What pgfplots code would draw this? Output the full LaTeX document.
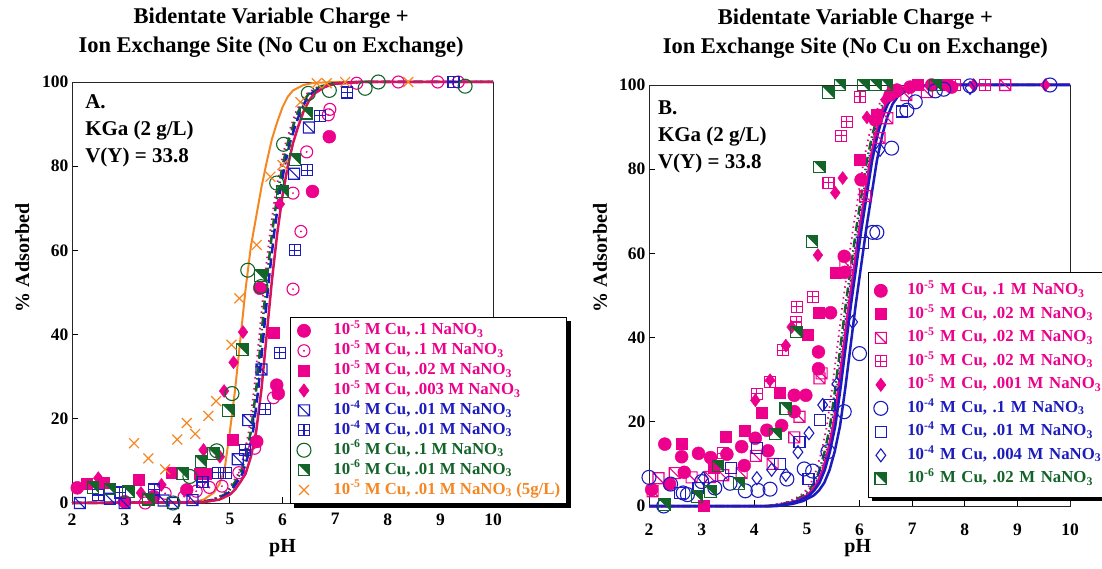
\documentclass[border=0pt]{standalone}
\usepackage{fontspec}
\setmainfont{Liberation Serif}
\usepackage{pgfplots}
\pgfplotsset{compat=1.18}
\usetikzlibrary{shadows}

\definecolor{pk}{RGB}{236,0,140}
\definecolor{bl}{RGB}{28,28,190}
\definecolor{gn}{RGB}{18,100,40}
\definecolor{og}{RGB}{245,135,35}
\definecolor{cr}{RGB}{215,20,90}

\pgfdeclareplotmark{odot}{%
  \pgfpathcircle{\pgfpointorigin}{\pgfplotmarksize}\pgfusepathqstroke
  \pgfpathcircle{\pgfpointorigin}{0.18\pgfplotmarksize}\pgfusepathqfill}
\pgfdeclareplotmark{sqdiag}{%
  \pgfpathrectangle{\pgfqpoint{-\pgfplotmarksize}{-\pgfplotmarksize}}{\pgfqpoint{2\pgfplotmarksize}{2\pgfplotmarksize}}%
  \pgfpathmoveto{\pgfqpoint{-\pgfplotmarksize}{\pgfplotmarksize}}%
  \pgfpathlineto{\pgfqpoint{\pgfplotmarksize}{-\pgfplotmarksize}}%
  \pgfusepathqstroke}
\pgfdeclareplotmark{sqgrid}{%
  \pgfpathrectangle{\pgfqpoint{-\pgfplotmarksize}{-\pgfplotmarksize}}{\pgfqpoint{2\pgfplotmarksize}{2\pgfplotmarksize}}%
  \pgfpathmoveto{\pgfqpoint{0pt}{-\pgfplotmarksize}}\pgfpathlineto{\pgfqpoint{0pt}{\pgfplotmarksize}}%
  \pgfpathmoveto{\pgfqpoint{-\pgfplotmarksize}{0pt}}\pgfpathlineto{\pgfqpoint{\pgfplotmarksize}{0pt}}%
  \pgfusepathqstroke}
\pgfdeclareplotmark{sqhalf}{%
  \pgfpathmoveto{\pgfqpoint{-\pgfplotmarksize}{\pgfplotmarksize}}%
  \pgfpathlineto{\pgfqpoint{\pgfplotmarksize}{\pgfplotmarksize}}%
  \pgfpathlineto{\pgfqpoint{\pgfplotmarksize}{-\pgfplotmarksize}}%
  \pgfpathclose\pgfusepathqfill
  \pgfpathrectangle{\pgfqpoint{-\pgfplotmarksize}{-\pgfplotmarksize}}{\pgfqpoint{2\pgfplotmarksize}{2\pgfplotmarksize}}%
  \pgfusepathqstroke}

\pgfplotsset{
  panel/.style={
    scale only axis, width=421pt, height=421pt,
    xmin=2, xmax=10, ymin=0, ymax=100,
    xtick={2,3,...,10}, ytick={0,20,...,100},
    tick pos=left, tick align=inside, major tick length=6pt,
    tick style={black, line width=0.8pt},
    axis line style={line width=0.8pt, black!85},
    ticklabel style={font=\fontsize{17.5}{18}\selectfont\bfseries},
    /pgf/number format/assume math mode=true,
    clip=false,
    label style={font=\fontsize{20}{22}\selectfont\bfseries},
    xlabel={pH}, ylabel={\% Adsorbed},
    title style={align=center, font=\fontsize{22.5}{29}\selectfont\bfseries, anchor=south, inner sep=0pt},
    title={Bidentate Variable Charge +\\Ion Exchange Site (No Cu on Exchange)},
    legend cell align=left,
  },
  sA/.style={only marks, mark=*, mark size=6.5pt, color=pk},
  sB/.style={only marks, mark=odot, mark size=6pt, color=pk, mark options={fill=pk, line width=1.1pt}},
  sC/.style={only marks, mark=square*, mark size=5.5pt, color=pk},
  sD/.style={only marks, mark=diamond*, mark size=6.5pt, color=pk},
  sE/.style={only marks, mark=sqdiag, mark size=5.5pt, color=bl, mark options={line width=1.1pt}},
  sF/.style={only marks, mark=sqgrid, mark size=5.5pt, color=bl, mark options={line width=1.1pt}},
  sG/.style={only marks, mark=o, mark size=7pt, color=gn, mark options={line width=1.1pt}},
  sH/.style={only marks, mark=sqhalf, mark size=5.8pt, color=gn, mark options={fill=gn, line width=1.1pt}},
  sI/.style={only marks, mark=x, mark size=7pt, color=og, mark options={line width=1.2pt}},
  pE/.style={only marks, mark=sqdiag, mark size=5.5pt, color=pk, mark options={line width=1.1pt}},
  pF/.style={only marks, mark=sqgrid, mark size=5.5pt, color=pk, mark options={line width=1.1pt}},
  bO/.style={only marks, mark=o, mark size=7pt, color=bl, mark options={line width=1.1pt}},
  bS/.style={only marks, mark=square, mark size=5.5pt, color=bl, mark options={line width=1.1pt}},
  bD/.style={only marks, mark=diamond, mark size=6.5pt, color=bl, mark options={line width=1.1pt}},
}

\newcommand{\lgent}[3]{\textcolor{#1}{10\textsuperscript{-#2} M Cu, #3}}

\begin{document}
\begin{tikzpicture}
% ---------------- Panel A ----------------
\begin{axis}[panel, at={(72pt,65pt)}, anchor=south west,
  title style={at={(axis description cs:0.473,1)}, yshift=18pt},
  xlabel style={at={(axis description cs:0.5,-0.107)}, anchor=center},
  ylabel style={at={(axis description cs:-0.118,0.582)}, anchor=center},
  xticklabel style={yshift=-7pt},
  legend style={at={(axis description cs:0.518,0.442)}, anchor=north west,
    draw=black, line width=0.8pt, fill=white,
    drop shadow={shadow xshift=4pt, shadow yshift=-4pt, fill=black, opacity=1},
    font=\fontsize{16.8}{18}\selectfont\bfseries,
    inner xsep=6.5pt, inner ysep=5pt, row sep=2.9pt,
    nodes={text height=12.5pt, text depth=4.5pt, inner sep=0pt},
    /tikz/every odd column/.append style={column sep=22.5pt}},
]
% model curves
\addplot[forget plot, og, line width=2pt] coordinates {(2,0)(4.3,0.2)(4.5,0.8)(4.7,2.5)(4.8,4.5)(4.9,8)(5.0,17)(5.1,27)(5.2,39)(5.3,51)(5.4,61)(5.5,68)(5.6,75)(5.7,81)(5.8,86.5)(5.9,90.5)(6.0,94)(6.1,96.5)(6.2,98)(6.4,99.3)(6.6,99.8)(7,100)(10,100)};
\addplot[forget plot, pk, line width=1.8pt, dash pattern=on 1.5pt off 4pt] coordinates {(2,0)(4.36,0.2)(4.66,0.8)(4.86,2)(4.96,3.2)(5.06,5)(5.16,7)(5.26,11)(5.36,17)(5.46,27)(5.56,40)(5.66,53)(5.76,64)(5.86,73)(5.96,80)(6.06,85.5)(6.16,89.5)(6.26,93)(6.36,95.5)(6.46,97.2)(6.66,98.8)(6.86,99.6)(7.36,100)(10,100)};
\addplot[forget plot, gn, line width=2.5pt, dash pattern=on 9pt off 3pt on 1.5pt off 3pt] coordinates {(2,0)(4.4,0.2)(4.7,0.8)(4.9,2)(5.0,3.2)(5.1,5)(5.2,7)(5.3,11)(5.4,17)(5.5,27)(5.6,40)(5.7,53)(5.8,64)(5.9,73)(6.0,80)(6.1,85.5)(6.2,89.5)(6.3,93)(6.4,95.5)(6.5,97.2)(6.7,98.8)(6.9,99.6)(7.4,100)(10,100)};
\addplot[forget plot, bl, line width=2.5pt, dash pattern=on 10pt off 5pt] coordinates {(2,0)(4.44,0.2)(4.74,0.8)(4.94,2)(5.04,3.2)(5.14,5)(5.24,7)(5.34,11)(5.44,17)(5.54,27)(5.64,40)(5.74,53)(5.84,64)(5.94,73)(6.04,80)(6.14,85.5)(6.24,89.5)(6.34,93)(6.44,95.5)(6.54,97.2)(6.74,98.8)(6.94,99.6)(7.44,100)(10,100)};
\addplot[forget plot, cr, line width=2.5pt] coordinates {(2,0)(4.5,0.2)(4.8,0.8)(5.0,2)(5.1,3.2)(5.2,5)(5.3,7)(5.4,11)(5.5,17)(5.6,27)(5.7,40)(5.8,53)(5.9,64)(6.0,73)(6.1,80)(6.2,85.5)(6.3,89.5)(6.4,93)(6.5,95.5)(6.6,97.2)(6.8,98.8)(7.0,99.6)(7.5,100)(10,100)};
% data
\addplot[sA] coordinates {(2.1,3.6)(3.0,0.3)(3.55,1.5)(4.18,3.1)(5.51,14.6)(5.57,51)(5.89,28)(5.92,26)(6.57,74)(6.89,87)};
\addlegendentry{\lgent{pk}{5}{.1 NaNO\textsubscript{3}}}
\addplot[sB] coordinates {(3.39,0)(3.77,2.3)(4.13,1.5)(4.36,2.8)(4.61,3.7)(4.85,4)(5.17,7.2)(5.47,13)(5.83,25)(6.2,50.8)(6.35,64.5)(6.2,73.6)(6.46,83.4)(6.87,92.2)(6.9,93.5)(7.41,99.7)(8.2,100)(8.95,100)(9.34,100)};
\addlegendentry{\lgent{pk}{5}{.1 M NaNO\textsubscript{3}}}
\addplot[sC] coordinates {(2.28,4.5)(2.6,4.8)(3.27,5.6)(3.9,7.2)(4.43,7)(4.55,7)(5.05,15.1)(5.83,40.5)};
\addlegendentry{\lgent{pk}{5}{.02 M NaNO\textsubscript{3}}}
\addplot[sD] coordinates {(2.5,5.9)(3.31,2.4)(3.7,4.3)(4.5,12.6)(4.81,11)(4.89,26.6)(5.07,33.4)(5.25,40.6)(5.95,71)};
\addlegendentry{\lgent{pk}{5}{.003 M NaNO\textsubscript{3}}}
\addplot[sE] coordinates {(2.15,0)(2.72,1)(3.0,0)(3.74,0.6)(3.92,0)(4.29,0.7)(5.15,10.4)(5.35,19.7)(5.6,31.7)(6.22,78.2)(6.5,89.2)};
\addlegendentry{\lgent{bl}{4}{.01 M NaNO\textsubscript{3}}}
\addplot[sF] coordinates {(2.5,1.9)(2.91,2.5)(3.56,3.2)(4.48,5)(4.78,7.2)(4.92,7.2)(5.29,12.6)(5.67,22.3)(5.95,35.7)(6.23,60)(6.47,79)(6.71,92)(7.23,97.5)(9.25,100)};
\addlegendentry{\lgent{bl}{4}{.01 M NaNO\textsubscript{3}}}
\addplot[sG] coordinates {(3.92,0)(4.24,6.3)(4.75,12.4)(5.04,26)(5.34,55.3)(5.59,51.4)(5.89,76)(6.02,85.2)(6.49,97.3)(6.89,98)(7.57,98.5)(7.82,100)(9.47,99)};
\addlegendentry{\textcolor{gn}{10\textsuperscript{-6} M Cu, .1 M NaNO\textsubscript{3}}}
\addplot[sH] coordinates {(2.4,3.7)(2.72,3.3)(3.07,2.7)(3.45,0.9)(4.1,7)(4.45,9.8)(4.69,11.8)(4.97,22)(5.24,36.4)(5.58,54)(6.0,74)(6.24,81.6)(6.46,92.6)};
\addlegendentry{\textcolor{gn}{10\textsuperscript{-6} M Cu, .01 M NaNO\textsubscript{3}}}
\addplot[sI] coordinates {(3.18,14.2)(3.45,10.6)(3.77,8)(4.0,15.1)(4.18,19)(4.34,16.4)(4.59,20.7)(4.74,24.2)(5.03,37.6)(5.18,48.6)(5.51,61.3)(5.77,77.5)(6.0,80.3)(6.34,95.2)(6.65,99.7)(6.84,99.7)(7.19,100)(8.39,100)};
\addlegendentry{\lgent{og}{5}{.01 M NaNO\textsubscript{3} (5g/L)}}
\node[anchor=north west, align=left, inner sep=0pt, font=\fontsize{21}{27}\selectfont\bfseries] at (axis description cs:0.031,0.971) {A.\\KGa (2 g/L)\\V(Y) = 33.8};
\end{axis}

% ---------------- Panel B ----------------
\begin{axis}[panel, at={(649pt,62pt)}, anchor=south west,
  title style={at={(axis description cs:0.49,1)}, yshift=20pt},
  xlabel style={at={(axis description cs:0.496,-0.1)}, anchor=center},
  ylabel style={at={(axis description cs:-0.116,0.589)}, anchor=center},
  xticklabel style={yshift=-14pt},
  legend style={at={(axis description cs:0.52,0.556)}, anchor=north west,
    draw=black, line width=0.8pt, fill=white,
    drop shadow={shadow xshift=4pt, shadow yshift=-4pt, fill=black, opacity=1},
    font=\fontsize{16.8}{18}\selectfont\bfseries,
    inner xsep=5.5pt, inner ysep=10pt, row sep=6.5pt,
    nodes={text height=12.5pt, text depth=4.5pt, inner sep=0pt},
    /tikz/every odd column/.append style={column sep=19.5pt},
    /tikz/every even column/.append style={text width=200pt}},
]
% model curves
\addplot[forget plot, pk, line width=1.8pt, dash pattern=on 1.5pt off 4pt] coordinates {(2,0)(4.18,0)(4.48,0.5)(4.68,1.2)(4.88,2.5)(4.98,3.7)(5.08,5.5)(5.18,8.5)(5.28,13)(5.38,19)(5.48,28)(5.58,38)(5.68,48)(5.78,57)(5.88,66)(5.98,74)(6.08,82)(6.18,88)(6.28,92.5)(6.38,95.5)(6.48,97.3)(6.68,99)(6.88,99.7)(7.38,100)(10,100)};
\addplot[forget plot, gn, line width=2.5pt, dash pattern=on 9pt off 3pt on 1.5pt off 3pt] coordinates {(2,0)(4.24,0)(4.54,0.5)(4.74,1.2)(4.94,2.5)(5.04,3.7)(5.14,5.5)(5.24,8.5)(5.34,13)(5.44,19)(5.54,28)(5.64,38)(5.74,48)(5.84,57)(5.94,66)(6.04,74)(6.14,82)(6.24,88)(6.34,92.5)(6.44,95.5)(6.54,97.3)(6.74,99)(6.94,99.7)(7.44,100)(10,100)};
\addplot[forget plot, bl, line width=1.8pt, dash pattern=on 1.5pt off 4pt] coordinates {(2,0)(4.27,0)(4.57,0.5)(4.77,1.2)(4.97,2.5)(5.07,3.7)(5.17,5.5)(5.27,8.5)(5.37,13)(5.47,19)(5.57,28)(5.67,38)(5.77,48)(5.87,57)(5.97,66)(6.07,74)(6.17,82)(6.27,88)(6.37,92.5)(6.47,95.5)(6.57,97.3)(6.77,99)(6.97,99.7)(7.47,100)(10,100)};
\addplot[forget plot, pk, line width=2.5pt] coordinates {(2,0)(4.3,0)(4.6,0.5)(4.8,1.2)(5.0,2.5)(5.1,3.7)(5.2,5.5)(5.3,8.5)(5.4,13)(5.5,19)(5.6,28)(5.7,38)(5.8,48)(5.9,57)(6.0,66)(6.1,74)(6.2,82)(6.3,88)(6.4,92.5)(6.5,95.5)(6.6,97.3)(6.8,99)(7.0,99.7)(7.5,100)(10,100)};
\addplot[forget plot, bl, line width=2.5pt] coordinates {(2,0)(4.34,0)(4.64,0.5)(4.84,1.2)(5.04,2.5)(5.14,3.7)(5.24,5.5)(5.34,8.5)(5.44,13)(5.54,19)(5.64,28)(5.74,38)(5.84,48)(5.94,57)(6.04,66)(6.14,74)(6.24,82)(6.34,88)(6.44,92.5)(6.54,95.5)(6.64,97.3)(6.84,99)(7.04,99.7)(7.54,100)(10,100)};
\addplot[forget plot, bl, line width=2.5pt] coordinates {(2,0)(4.43,0)(4.73,0.5)(4.93,1.2)(5.13,2.5)(5.23,3.7)(5.33,5.5)(5.43,8.5)(5.53,13)(5.63,19)(5.73,28)(5.83,38)(5.93,48)(6.03,57)(6.13,66)(6.23,74)(6.33,82)(6.43,88)(6.53,92.5)(6.63,95.5)(6.73,97.3)(6.93,99)(7.13,99.7)(7.63,100)(10,100)};
% data
\addplot[sA] coordinates {(2.05,3.9)(2.3,14.7)(2.39,5.2)(2.62,11.7)(2.67,8)(2.94,12.5)(3.17,11.5)(3.48,12.3)(3.76,14.1)(3.81,9.6)(4.02,16.1)(4.24,18)(4.26,13.1)(4.52,19.1)(4.76,22.4)(4.76,26.3)(4.98,26.3)(5.22,32.6)(5.22,36.6)(5.45,45.9)(5.71,59.3)(5.72,55.5)(6.03,77.5)(6.3,91.7)(6.58,97.6)(6.71,98.8)(6.96,99.5)(7.37,100)(7.75,99.5)};
\addlegendentry{\lgent{pk}{5}{.1 M NaNO\textsubscript{3}}}
\addplot[sC] coordinates {(2.63,14.7)(3.03,0)(3.22,9.1)(3.46,16.5)(3.81,17.8)(4.14,22.1)(4.48,27)(5.02,40.7)(5.23,46)(5.54,55.5)(6.01,82.2)(6.33,92.9)(6.64,98.5)(7.1,100)(7.66,100)};
\addlegendentry{\lgent{pk}{5}{.02 M NaNO\textsubscript{3}}}
\addplot[pE] coordinates {(2.07,3.5)(2.18,6.6)(2.49,7.8)(2.81,6.8)(3.16,6.9)(3.41,7.3)(3.76,7.8)(4.03,11.9)(4.35,10)(4.76,16.3)(4.86,21.2)(5.24,30.3)(5.28,31.5)(5.73,57.8)(6.11,73.6)(6.38,87.4)(6.53,92.1)(6.89,97.6)(7.28,98.3)(8.77,100)};
\addlegendentry{\lgent{pk}{5}{.02 M NaNO\textsubscript{3}}}
\addplot[pF] coordinates {(3.41,12.5)(4.05,26.7)(4.3,29.5)(4.54,37)(4.8,43.7)(4.81,47.3)(5.11,49.7)(5.41,76.8)(5.65,87.9)(5.76,91.3)(6.01,97.2)(7.82,100)(8.39,100)};
\addlegendentry{\lgent{pk}{5}{.02 M NaNO\textsubscript{3}}}
\addplot[sD] coordinates {(4.02,25.1)(4.3,29.9)(4.6,38.1)(4.71,42.5)(5.21,59.6)(5.54,74.4)(5.68,77.9)(6.14,92.3)(6.49,96.5)(6.93,99.3)(8.17,100)(9.53,100)};
\addlegendentry{\lgent{pk}{5}{.001 M NaNO\textsubscript{3}}}
\addplot[bO] coordinates {(2.0,6.8)(2.28,0)(2.41,5.2)(2.65,3.1)(2.73,2.7)(3.0,5.8)(3.25,4.3)(3.54,5.4)(3.83,3.6)(4.07,3.7)(4.3,4)(4.62,6.4)(4.95,8.8)(5.11,8.3)(5.4,12.9)(5.71,22.4)(6.0,36.2)(6.25,65)(6.33,65)(6.61,85)(6.9,94)(7.06,96)(7.44,98.6)(7.6,99)(8.1,99.8)(9.62,100)};
\addlegendentry{\lgent{bl}{4}{.1 M NaNO\textsubscript{3}}}
\addplot[bS] coordinates {(2.59,3.1)(2.94,4.3)(3.55,9.1)(4.06,13.7)(4.49,9.9)(4.86,15.3)(5.03,6.4)(5.25,20.4)(5.43,24)(6.07,62.5)(6.8,93.7)};
\addlegendentry{\lgent{bl}{4}{.01 M NaNO\textsubscript{3}}}
\addplot[bD] coordinates {(3.03,6.6)(4.05,6.6)(4.33,8.6)(4.6,7.4)(4.83,12.8)(5.04,17.3)(5.3,24)(5.57,29)(5.87,43.7)(6.39,84.6)(8.1,99.3)};
\addlegendentry{\lgent{bl}{4}{.004 M NaNO\textsubscript{3}}}
\addplot[sH] coordinates {(2.29,0.3)(2.91,2.3)(3.17,3.5)(3.31,9.5)(3.71,5.4)(4.4,17.1)(4.6,23.2)(4.8,41.3)(5.1,62.8)(5.24,80.5)(5.41,98.2)(5.63,100)(6.07,100)(6.3,100)(6.52,100)(7.44,100)};
\addlegendentry{\textcolor{gn}{10\textsuperscript{-6} M Cu, .02 M NaNO\textsubscript{3}}}
\node[anchor=north west, align=left, inner sep=0pt, font=\fontsize{21}{27}\selectfont\bfseries] at (axis description cs:0.021,0.964) {B.\\KGa (2 g/L)\\V(Y) = 33.8};
\end{axis}
\pgfresetboundingbox
\path (0pt,0pt) rectangle (1102pt,568pt);
\end{tikzpicture}
\end{document}
